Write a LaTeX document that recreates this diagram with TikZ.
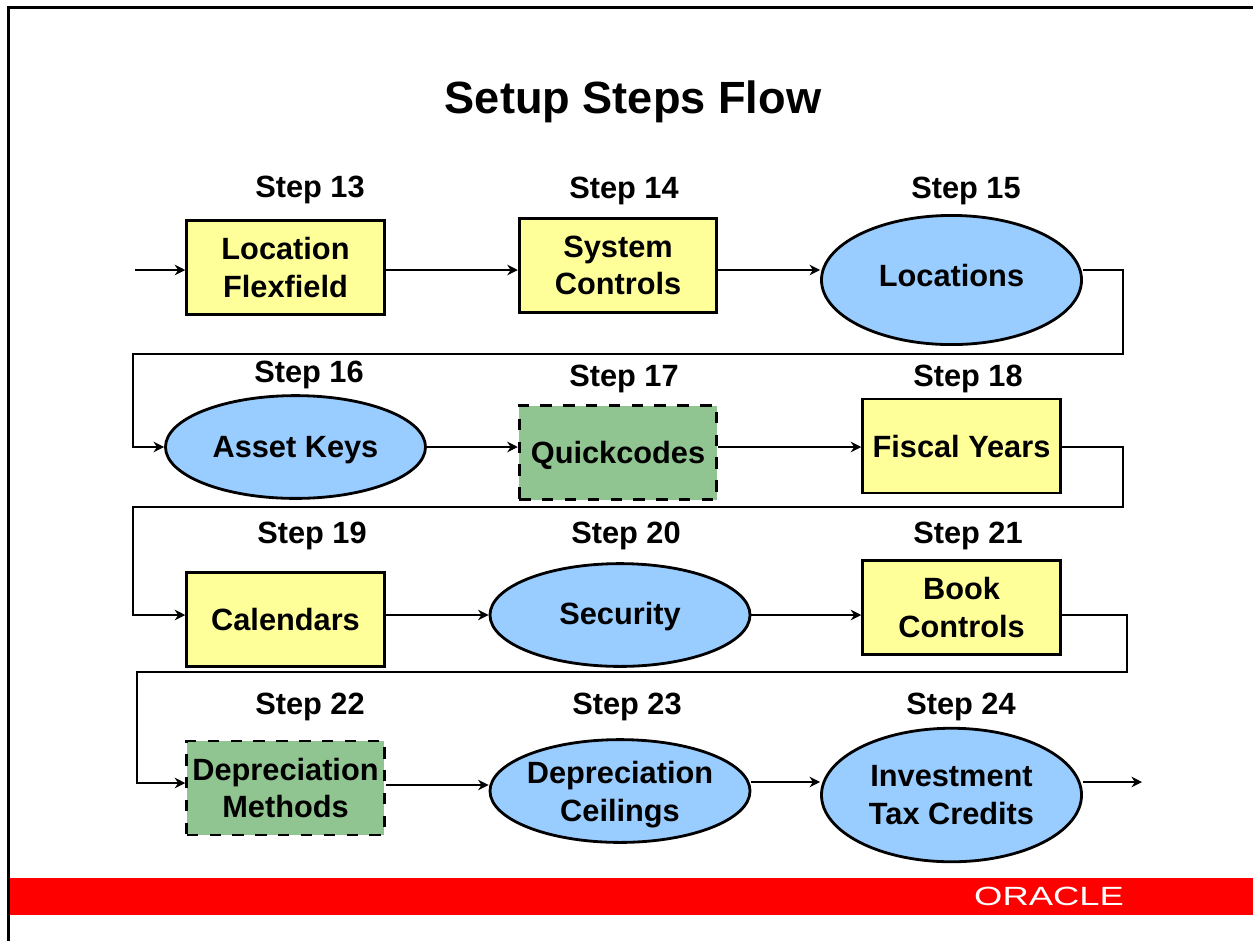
\documentclass[tikz,border=0pt]{standalone}
\usepackage{fontspec}
\setmainfont{Liberation Sans}
\usetikzlibrary{arrows.meta,shapes.geometric}
\definecolor{boxyellow}{HTML}{FFFF99}
\definecolor{ovalblue}{HTML}{99CCFF}
\definecolor{boxgreen}{HTML}{90C490}
\tikzset{
  steplabel/.style={font=\bfseries\fontsize{17.5}{20}\selectfont},
  stepbox/.style={draw, line width=1.6pt, minimum width=112.5pt, minimum height=53.5pt, inner sep=0pt, align=center, font=\bfseries\fontsize{17.5}{21.5}\selectfont},
  setupbox/.style={stepbox, fill=boxyellow},
  lookupbox/.style={stepbox, fill=boxgreen, dash pattern=on 6.5pt off 6.5pt},
  bookoval/.style={ellipse, draw, line width=1.6pt, fill=ovalblue, inner sep=0pt, minimum width=148pt, minimum height=58.5pt, align=center, font=\bfseries\fontsize{17.5}{21.5}\selectfont},
  flowline/.style={line width=1.6pt, -{Stealth[length=6pt,width=6pt]}},
  thinflow/.style={flowline, line width=0.7pt},
}
\begin{document}
\begin{tikzpicture}[x=0.02cm,y=-0.02cm]
    \useasboundingbox (0,0) rectangle (1253,941);
    % Footer band and frame
    \fill[red] (10,878) rectangle (1253,915);
    \fill (7,6) rectangle (1253,9);
    \fill (7,6) rectangle (10,941);
    \node[text=white, font=\fontsize{15}{15}\selectfont, xscale=1.38, transform shape] (oracle) at (1049,896.5) {ORACLE};
    % Title
    \node[font=\bfseries\fontsize{25.7}{30}\selectfont] (title) at (633,102) {Setup Steps Flow};
    % Step labels
    \node[steplabel] (label13) at (310,190) {Step 13};
    \node[steplabel] (label14) at (624,191) {Step 14};
    \node[steplabel] (label15) at (966,191) {Step 15};
    \node[steplabel] (label16) at (309,375) {Step 16};
    \node[steplabel] (label17) at (624,379) {Step 17};
    \node[steplabel] (label18) at (968,379) {Step 18};
    \node[steplabel] (label19) at (312,536) {Step 19};
    \node[steplabel] (label20) at (626,536) {Step 20};
    \node[steplabel] (label21) at (968,536) {Step 21};
    \node[steplabel] (label22) at (310,707) {Step 22};
    \node[steplabel] (label23) at (627,707) {Step 23};
    \node[steplabel] (label24) at (961,707) {Step 24};
    % Steps, row by row
    \node[setupbox] (flexfield) at (285.5,267.5) {Location\\Flexfield};
    \node[setupbox] (controls) at (618,265.5) {System\\Controls};
    \node[bookoval, minimum height=73.5pt, text depth=5pt] (locations) at (951.5,280) {Locations};
    \node[bookoval, text height=15.5pt] (assetkeys) at (295.5,447) {Asset Keys};
    \node[lookupbox, text height=15.5pt] (quickcodes) at (618,452.5) {Quickcodes};
    \node[setupbox] (fiscal) at (961.5,446) {Fiscal Years};
    \node[setupbox] (calendars) at (285.5,619.5) {Calendars};
    \node[bookoval, text height=14.5pt] (security) at (620,615) {Security};
    \node[setupbox] (book) at (961.5,607.5) {Book\\Controls};
    \node[lookupbox] (methods) at (285.5,788) {Depreciation\\Methods};
    \node[bookoval, inner xsep=-4pt, inner ysep=-2pt] (ceilings) at (620,791) {\rule{0pt}{17pt}Depreciation\\Ceilings};
    \node[bookoval, minimum height=76pt] (credits) at (951.5,795) {Investment\\Tax Credits};
    % Free ends and corners
    \coordinate (start) at (135,270);
    \coordinate (finish) at (1142,782);
    \coordinate (turnA) at (1123,270);
    \coordinate (turnB) at (1123,354);
    \coordinate (turnC) at (133,354);
    \coordinate (turnD) at (133,447);
    \coordinate (turnE) at (1123,447);
    \coordinate (turnF) at (1123,507);
    \coordinate (turnG) at (133,507);
    \coordinate (turnH) at (133,615);
    \coordinate (turnI) at (1127,615);
    \coordinate (turnJ) at (1127,672);
    \coordinate (turnK) at (137,672);
    \coordinate (turnL) at (137,783);
    \coordinate (thinrow) at (0,785);
    % Connectors
    \draw[flowline] (start) -- (start -| flexfield.west);
    \draw[flowline] (start -| flexfield.east) -- (start -| controls.west);
    \draw[flowline] (start -| controls.east) -- (start -| locations.west);
    \draw[flowline] (start -| locations.east) -- (turnA) -- (turnB) -- (turnC) -- (turnD) -- (assetkeys.west);
    \draw[flowline] (assetkeys.east) -- (assetkeys.east -| quickcodes.west);
    \draw[flowline] (turnE -| quickcodes.east) -- (turnE -| fiscal.west);
    \draw[flowline] (turnE -| fiscal.east) -- (turnE) -- (turnF) -- (turnG) -- (turnH) -- (turnH -| calendars.west);
    \draw[flowline] (turnH -| calendars.east) -- (security.west);
    \draw[flowline] (turnI -| security.east) -- (turnI -| book.west);
    \draw[flowline] (turnI -| book.east) -- (turnI) -- (turnJ) -- (turnK) -- (turnL) -- (turnL -| methods.west);
    \draw[thinflow] (thinrow -| methods.east) -- (thinrow -| ceilings.west);
    \draw[flowline] (finish -| ceilings.east) -- (finish -| credits.west);
    \draw[flowline] (finish -| credits.east) -- (finish);
\end{tikzpicture}
\end{document}
